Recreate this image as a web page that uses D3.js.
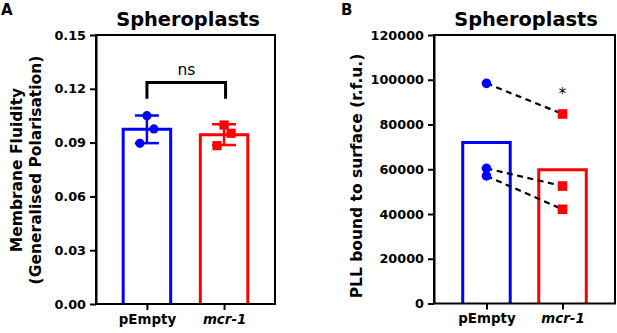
<!DOCTYPE html>
<html>
<head>
<meta charset="utf-8">
<script src="https://cdn.jsdelivr.net/npm/d3@7"></script>
<style>
  body { margin: 0; background: #fff; }
  svg { display: block; }
  text { font-family: 'DejaVu Sans', sans-serif; fill: #000; }
</style>
</head>
<body>
<script>
// data
const groups = ["pEmpty", "mcr-1"];
const fluidityEmpty = [0.105, 0.0976, 0.0896];
const fluidityMcr = [0.0998, 0.0952, 0.0883];
const pllEmpty = [98400, 60400, 57000];
const pllMcr = [84700, 52500, 42100];
const ticksA = [0, 0.03, 0.06, 0.09, 0.12, 0.15];
const ticksB = [0, 20000, 40000, 60000, 80000, 100000, 120000];

const BLUE = "#0000ff", RED = "#ff0000";
const colors = [BLUE, RED];
const barW = 47.5;
const jitter = [0, 7, -7];   // scatter spread of the replicate points

const svg = d3.select("body").append("svg")
    .attr("width", 617)
    .attr("height", 333);

function barPath(x, y, v) {
    let x0 = x - barW / 2, x1 = x + barW / 2;
    return "M" + x0 + "," + y(0) + "V" + y(v) + "H" + x1 + "V" + y(0);
}

function styleAxis(g) {
    g.selectAll("path, line").attr("stroke", "#000").attr("stroke-width", 2);
    g.selectAll("text").attr("font-family", "'DejaVu Sans', sans-serif")
        .attr("font-weight", "bold").attr("fill", "#000");
}

function drawAxes(x, y, ticks, fmt, left, right, top, bottom) {
    // frame box
    svg.append("rect")
        .attr("x", left).attr("y", top)
        .attr("width", right - left).attr("height", bottom - top)
        .attr("fill", "none").attr("stroke", "#000").attr("stroke-width", 2);

    let ya = svg.append("g")
        .attr("transform", "translate(" + left + ",0)")
        .call(d3.axisLeft(y).tickValues(ticks).tickFormat(fmt).tickSize(6).tickSizeOuter(0).tickPadding(4));
    styleAxis(ya);
    ya.selectAll("text").attr("font-size", 12.8);

    let xa = svg.append("g")
        .attr("transform", "translate(0," + bottom + ")")
        .call(d3.axisBottom(x).tickSize(6).tickSizeOuter(0));
    styleAxis(xa);
    xa.select(".domain").remove();
    xa.selectAll("text")
        .attr("font-size", 13.4)
        .attr("dy", 0)
        .attr("y", 19.5)
        .attr("font-style", d => d === "mcr-1" ? "italic" : "normal");
}

function title(txt, cx) {
    svg.append("text")
        .attr("x", cx).attr("y", 26)
        .attr("text-anchor", "middle")
        .attr("font-size", 19.4)
        .attr("font-weight", "bold")
        .text(txt);
}

function marker(g, cx, cy, i, r) {
    if (i === 0) {
        g.append("circle").attr("cx", cx).attr("cy", cy).attr("r", r).attr("fill", BLUE);
    } else {
        g.append("rect").attr("x", cx - r).attr("y", cy - r)
            .attr("width", r * 2).attr("height", r * 2).attr("fill", RED);
    }
}

/* ---------- Panel A ---------- */
const xA = d3.scalePoint().domain(groups).range([96, 275]).padding(0.66);
const yA = d3.scaleLinear().domain([0, 0.15]).range([304, 35]);
const setsA = [fluidityEmpty, fluidityMcr];

svg.append("text").attr("x", 1).attr("y", 15)
    .attr("font-size", 15).attr("font-weight", "bold").text("A");
title("Spheroplasts", 188);

const plotA = svg.append("g");
setsA.forEach(function (vals, i) {
    let cx = xA(groups[i]);
    plotA.append("path")
        .attr("d", barPath(cx, yA, d3.mean(vals)))
        .attr("fill", "none")
        .attr("stroke", colors[i])
        .attr("stroke-width", 3);
});

drawAxes(xA, yA, ticksA, d3.format(".2f"), 96, 275, 35, 304);

setsA.forEach(function (vals, i) {
    let cx = xA(groups[i]);
    let m = d3.mean(vals), sd = d3.deviation(vals);
    vals.forEach(function (v, j) {
        marker(plotA, cx + jitter[j], yA(v), i, 4.6);
    });
    let eb = svg.append("g").attr("stroke", colors[i]).attr("stroke-width", 2.5);
    eb.append("line").attr("x1", cx).attr("x2", cx).attr("y1", yA(m + sd)).attr("y2", yA(m - sd));
    eb.append("line").attr("x1", cx - 12).attr("x2", cx + 12).attr("y1", yA(m + sd)).attr("y2", yA(m + sd));
    eb.append("line").attr("x1", cx - 12).attr("x2", cx + 12).attr("y1", yA(m - sd)).attr("y2", yA(m - sd));
});

// significance bracket
const bracketTop = 0.1235, bracketFoot = 0.1145;
svg.append("path")
    .attr("d", "M" + xA("pEmpty") + "," + yA(bracketFoot) + "V" + yA(bracketTop) +
        "H" + (xA("mcr-1") + 1.5) + "V" + yA(bracketFoot))
    .attr("fill", "none").attr("stroke", "#000").attr("stroke-width", 3);
svg.append("text")
    .attr("x", (xA("pEmpty") + xA("mcr-1")) / 2 + 1).attr("y", 75)
    .attr("text-anchor", "middle").attr("font-size", 15.5)
    .text("ns");

const labA = svg.append("text")
    .attr("transform", "translate(22,170) rotate(-90)")
    .attr("text-anchor", "middle")
    .attr("font-size", 15.5)
    .attr("font-weight", "bold");
labA.append("tspan").attr("x", 0).attr("y", 0).text("Membrane Fluidity");
labA.append("tspan").attr("x", 0).attr("y", 19).text("(Generalised Polarisation)");

/* ---------- Panel B ---------- */
const xB = d3.scalePoint().domain(groups).range([434, 615]).padding(0.69);
const yB = d3.scaleLinear().domain([0, 120000]).range([303.5, 35]);
const setsB = [pllEmpty, pllMcr];

svg.append("text").attr("x", 341).attr("y", 15)
    .attr("font-size", 15).attr("font-weight", "bold").text("B");
title("Spheroplasts", 526);

const plotB = svg.append("g");
setsB.forEach(function (vals, i) {
    plotB.append("path")
        .attr("d", barPath(xB(groups[i]), yB, d3.mean(vals)))
        .attr("fill", "none")
        .attr("stroke", colors[i])
        .attr("stroke-width", 3);
});

drawAxes(xB, yB, ticksB, d3.format("d"), 434, 615, 35, 303.5);

// paired lines
pllEmpty.forEach(function (v, j) {
    svg.append("line")
        .attr("x1", xB("pEmpty")).attr("y1", yB(v))
        .attr("x2", xB("mcr-1")).attr("y2", yB(pllMcr[j]))
        .attr("stroke", "#000").attr("stroke-width", 2.2)
        .attr("stroke-dasharray", "6,4.5");
});
const ptsB = svg.append("g");
setsB.forEach(function (vals, i) {
    vals.forEach(function (v) {
        marker(ptsB, xB(groups[i]), yB(v), i, 4.8);
    });
});

svg.append("text")
    .attr("x", xB("mcr-1")).attr("y", 99)
    .attr("text-anchor", "middle").attr("font-size", 15)
    .text("*");

svg.append("text")
    .attr("transform", "translate(362,176) rotate(-90)")
    .attr("text-anchor", "middle")
    .attr("font-size", 15.5)
    .attr("font-weight", "bold")
    .text("PLL bound to surface (r.f.u.)");
</script>
</body>
</html>
